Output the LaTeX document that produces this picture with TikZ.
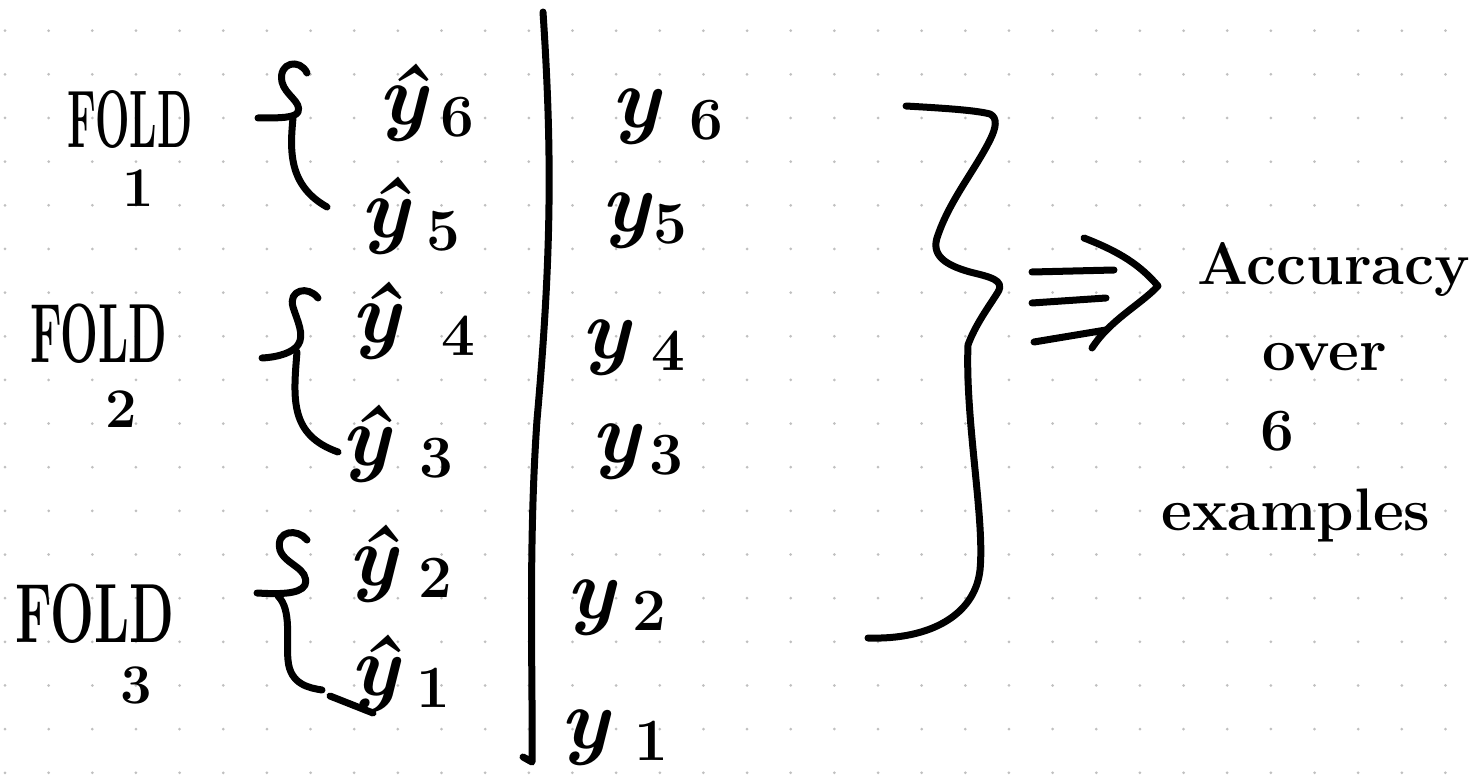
\documentclass[tikz,border=0pt]{standalone}
\usepackage{graphicx}
\definecolor{dotc}{RGB}{192,192,192}
\definecolor{ink}{RGB}{0,0,0}
\newcommand{\mysub}[2]{\hspace{#1}\raisebox{-6pt}{\fontsize{30}{30}\selectfont\upshape #2}}
\begin{document}
\begin{tikzpicture}[x=0.5pt,y=-0.5pt,
  stroke/.style={draw=ink, line width=3.5pt, line cap=round, line join=round},
  ylab/.style={inner sep=0pt, anchor=base west, font=\fontsize{43}{43}\selectfont\bfseries\itshape},
  foldlab/.style={inner sep=0pt, anchor=base west, font=\fontsize{40}{40}\selectfont\bfseries},
  numlab/.style={inner sep=0pt, anchor=base, font=\fontsize{28}{28}\selectfont\bfseries},
  acclab/.style={inner sep=0pt, anchor=base, font=\fontsize{30}{30}\selectfont\bfseries}]
\useasboundingbox (0,0) rectangle (1472,775);
\fill[white] (0,0) rectangle (1472,775);
% dotted grid
\foreach \i in {0,...,33}{
  \foreach \j in {0,...,17}{
    \fill[dotc] ({5+43.65*\i},{30.7+43.65*\j}) circle (0.75pt);
  }
}
% fold labels
\node[foldlab] (f1) at (67,148) {\scalebox{0.51}[1.02]{FOLD}};
\node[numlab] (n1) at (138,207) {1};
\node[foldlab] (f2) at (30,362) {\scalebox{0.56}[1.05]{FOLD}};
\node[numlab] (n2) at (121,427) {2};
\node[foldlab] (f3) at (15,642) {\scalebox{0.65}[1.05]{FOLD}};
\node[numlab] (n3) at (136,703) {3};
% predicted labels
\node[ylab] (p6) at (378,125) {ŷ\mysub{7pt}{6}};
\node[ylab] (p5) at (360,238) {ŷ\mysub{9pt}{5}};
\node[ylab] (p4) at (351,343) {ŷ\mysub{21pt}{4}};
\node[ylab] (p3) at (341,465) {ŷ\mysub{15pt}{3}};
\node[ylab] (p2) at (348,585) {ŷ\mysub{11pt}{2}};
\node[ylab] (p1) at (350,695) {ŷ\mysub{9pt}{1}};
% true labels
\node[ylab] (t6) at (611,128) {y\mysub{15pt}{6}};
\node[ylab] (t5) at (601,232) {y\mysub{2pt}{5}};
\node[ylab] (t4) at (581,358) {y\mysub{11pt}{4}};
\node[ylab] (t3) at (591,462) {y\mysub{5pt}{3}};
\node[ylab] (t2) at (566,618) {y\mysub{9pt}{2}};
\node[ylab] (t1) at (560,748) {y\mysub{13pt}{1}};
% left braces
\draw[stroke] (307,73) .. controls (300,58) and (278,62) .. (282,82)
  .. controls (285,95) and (302,102) .. (298,112)
  .. controls (295,118) and (280,118) .. (258,118);
\draw[stroke] (293,118) .. controls (290,150) and (288,185) .. (327,207);
\draw[stroke] (318,298) .. controls (308,285) and (288,290) .. (293,307)
  .. controls (297,320) and (305,335) .. (298,345)
  .. controls (293,352) and (280,357) .. (262,358);
\draw[stroke] (297,352) .. controls (293,400) and (290,435) .. (338,452);
\draw[stroke] (307,540) .. controls (298,528) and (275,530) .. (280,550)
  .. controls (285,565) and (310,568) .. (305,585)
  .. controls (300,595) and (275,594) .. (257,593);
\draw[stroke] (278,596) .. controls (292,610) and (286,640) .. (288,660)
  .. controls (290,685) and (310,688) .. (322,690);
\draw[stroke] (330,696) -- (373,713);
% vertical divider
\draw[stroke] (543,12) .. controls (552,150) and (552,250) .. (537,420)
  .. controls (528,550) and (533,680) .. (532,762) -- (523,757);
% big brace
\draw[stroke] (906,106) .. controls (940,108) and (975,110) .. (990,114)
  .. controls (998,118) and (996,128) .. (990,140)
  .. controls (975,170) and (950,200) .. (938,235)
  .. controls (930,255) and (945,265) .. (970,272)
  .. controls (990,277) and (1005,280) .. (998,292)
  .. controls (990,305) and (975,325) .. (968,345)
  .. controls (965,420) and (985,520) .. (980,570)
  .. controls (975,615) and (930,640) .. (868,638);
% result text
\node[acclab] (a1) at (1334,285) {Accuracy};
\node[acclab] (a2) at (1325,370) {over};
\node[acclab] (a3) at (1277,450) {6};
\node[acclab] (a4) at (1296,530) {examples};
% triple arrow
\coordinate (s1) at (1032,272); \coordinate (e1) at (1114,270);
\coordinate (s2) at (1032,303); \coordinate (e2) at (1106,298);
\coordinate (s3) at (1034,342); \coordinate (e3) at (1106,330);
\coordinate (tip) at (1158,286);
\draw[stroke] (s1) -- (e1);
\draw[stroke] (s2) -- (e2);
\draw[stroke] (s3) -- (e3);
\draw[stroke] (1084,238) .. controls (1120,252) and (1140,265) .. (tip)
  .. controls (1140,305) and (1110,320) .. (1092,348);
\end{tikzpicture}
\end{document}
